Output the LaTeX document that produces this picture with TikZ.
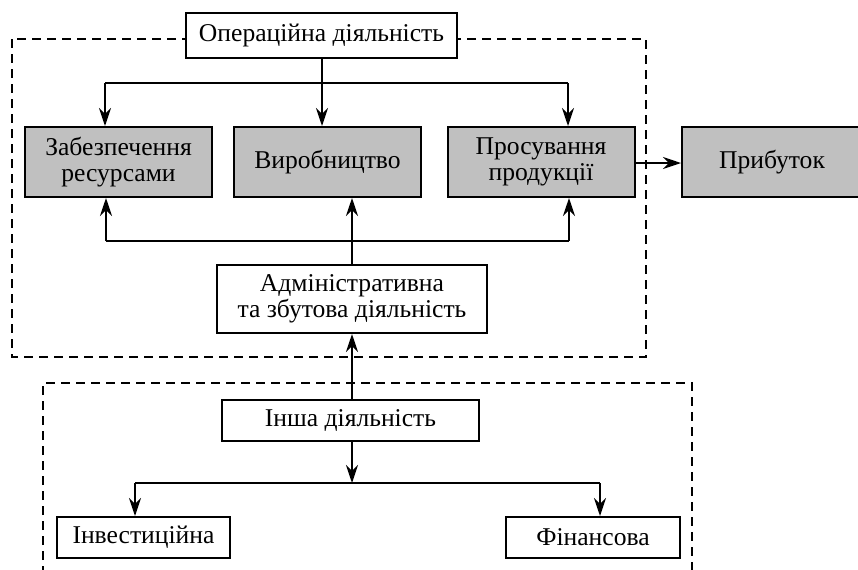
\documentclass[tikz,border=0pt]{standalone}
\usepackage{fontspec}
\setmainfont{Liberation Serif}
\usetikzlibrary{arrows.meta}
\definecolor{boxgray}{RGB}{192,192,192}
\begin{document}
\begin{tikzpicture}[
            x=0.5pt, y=-0.5pt,
            line width=1pt,
            >={Stealth[length=9pt, width=6pt, inset=3pt]},
            font=\fontsize{12.8}{13}\selectfont,
            block/.style={rectangle, draw, fill=white, align=center, inner sep=0pt},
            shaded/.style={block, fill=boxgray, minimum width=93.5pt, minimum height=35pt},
            frame/.style={dashed, dash pattern=on 4.5pt off 3pt},
            ]
            \clip (0,0) rectangle (858,569);
            % dashed frames
            \draw[frame] (12,39) rectangle (646,357);
            \draw[frame] (43,575) |- (692,383) -- (692,575);

            \node (oper) [block, minimum width=135.5pt, minimum height=22.5pt] at (321.5,35.5) {Операційна діяльність};
            \node (zab) [shaded] at (118.5,162) {Забезпечення\\ресурсами};
            \node (vyr) [shaded] at (327.5,162) {Виробництво};
            \node (pros) [shaded] at (541,162) {Просування\\продукції};
            \node (prib) [shaded, minimum width=90pt] at (772,162) {Прибуток};
            \node (adm) [block, minimum width=135pt, minimum height=34pt] at (352,299) {Адміністративна\\та збутова діяльність};
            \node (insha) [block, minimum width=128.5pt, minimum height=20.5pt] at (350.5,420.5) {Інша діяльність};
            \node (inv) [block, minimum width=86.5pt, minimum height=20.5pt] at (143.5,537.5) {Інвестиційна};
            \node (fin) [block, minimum width=87pt, minimum height=20.5pt] at (593,537.5) {Фінансова};

            \coordinate (topL) at (105,83);
            \coordinate (topR) at (568,83);
            \coordinate (midL) at (106,241);
            \coordinate (midR) at (569,241);
            \coordinate (botM) at (352,483);
            \coordinate (botL) at (135,483);
            \coordinate (botR) at (600,483);

            % operating activity
            \draw[->] (oper.south -| 322,0) -- (vyr.north -| 322,0);
            \draw (topL) -- (topR);
            \draw[->] (topL) -- (topL |- zab.north);
            \draw[->] (topR) -- (topR |- pros.north);
            \draw[->] (pros.east |- 0,163) -- (prib.west |- 0,163);

            % administration
            \draw[->] (adm.north) -- (adm.north |- vyr.south);
            \draw (midL) -- (midR);
            \draw[->] (midL) -- (midL |- zab.south);
            \draw[->] (midR) -- (midR |- pros.south);

            % other activity
            \draw[->] (adm.south |- insha.north) -- (adm.south);
            \draw[->] (insha.south -| botM) -- (botM);
            \draw (botL) -- (botR);
            \draw[->] (botL) -- (botL |- inv.north);
            \draw[->] (botR) -- (botR |- fin.north);
        \end{tikzpicture}
\end{document}
